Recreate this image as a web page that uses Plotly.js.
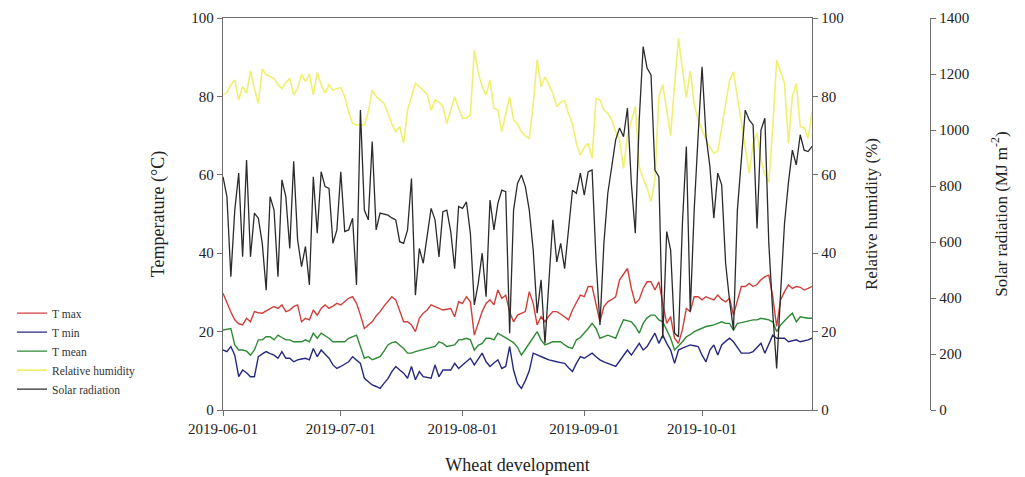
<!DOCTYPE html>
<html>
<head>
<meta charset="utf-8">
<script src="https://cdn.plot.ly/plotly-3.0.1.min.js"></script>
<style>html,body{margin:0;padding:0;background:#fff;}#chart{width:1025px;height:477px;}</style>
</head>
<body>
<div id="chart"></div>
<script>
// Daily series, 2019-06-01 .. 2019-10-29
const startDate = '2019-06-01';
const tMax = [29.8,27.2,25,23,22,21.7,23.4,22.5,25.1,24.8,
24.7,25.3,25.9,26.4,25.9,26.8,25.1,25.5,26.4,26.8,
22.5,23.4,23,25.5,24.2,25.9,26.8,25.9,26.5,27.2,
26.8,27.6,28.5,28.9,27.2,24.2,20.8,21.7,22.5,24,
25.1,26.5,27.6,28.9,28.1,25,22.5,22.5,21.7,20,
23.4,24.7,25.5,26.8,26.4,25.9,25.5,25.7,25.9,23.8,
27.6,27.2,28.9,27.6,19.1,22.1,25.1,27.2,28.1,26.8,
30.6,28.5,29.3,25,22.5,24.2,24.6,25.1,30.2,27.2,
21.7,23.8,22.5,24,25.1,25.1,24.5,23.8,23,25.5,
27.5,29.3,28.9,31.5,31.5,27.2,22.5,26.4,27.6,28.2,
28.9,33.2,34.6,36.1,31,27.2,28.2,31,32.7,32.7,
30.6,32.7,27.2,22.1,23.8,18.3,17,20.5,25.9,25.1,
28.9,28.9,28.1,28.9,28.5,28.1,29.3,28.2,27.6,28.5,
24.2,28.1,31.5,31.5,32.3,31.5,32,33.2,34,34.4,
28.9,21.3,28.1,30.2,31.9,31,31.5,31.3,30.6,31,
31.5];
const tMin = [15.3,14.9,16.2,14,8.5,10.2,9.5,8.5,8.5,13.6,
14.3,14.9,14.4,14,13.2,14.9,13.2,13.2,12.3,12.8,
13,13.2,12.8,15.7,13.6,15.3,14.2,13.2,11.5,10.6,
11.1,11.6,12.3,13.6,12.8,11.9,8.1,7.2,6.4,6,
5.5,6.8,8,9.8,11.1,10.2,9.4,8.1,11.1,7.7,
9.8,8.5,8.3,8.1,11.5,8.5,10.2,10.2,10.2,11.9,
10.6,11.5,12.3,13.2,11.5,13,14.5,12.3,11.1,12,
12.8,10.6,11.1,16.2,10.2,6.8,5.5,7.5,10,14.5,
14,13.6,13.2,12.8,12.5,12.3,12.1,11.9,10.8,9.8,
11.9,13.6,13.2,13.8,14.5,13.6,12.8,12.3,11.9,11.5,
11.1,12.5,14,15.3,14,15.5,17,15.3,16.2,17.9,
19.6,17,19.1,17,15.3,11.9,15.3,15.8,16.2,16.6,
16.4,16.2,14,12.3,15.3,16.6,14,16.6,17.5,18.3,
17.4,16,14.5,14.5,14.5,14.9,16,17,14.5,17,
19.1,18.3,18.3,18.3,17.4,17.6,17.9,17.4,17.6,17.9,
18.3];
const tMean = [20.4,20.6,20.8,16.6,15.3,15.3,15,14,15.3,17.9,
17.9,18.7,18.7,17.9,19.1,18.5,17.9,17.9,17.4,17.4,
17.4,17.9,17.4,19.6,18.3,19.6,19,18.3,17.4,17.4,
17.4,17.4,18.3,18.7,19.1,16.2,13.2,13.6,12.8,13.2,
13.6,15,16.6,17.2,17.4,16.5,15.7,14.5,14.5,14.9,
15.2,15.5,15.7,16,16.2,17.4,17,16.2,16.4,16.6,
17.9,18,18.3,17.9,15.3,16.5,17,18.3,18.3,17.9,
19.6,19,18.3,17.9,17.2,16,14,15.5,17,18.5,
20,17.9,16.6,17,17.4,17.4,17.4,16.6,16,15.7,
17.9,18.5,19.6,20.8,22.1,20.8,18.3,18.7,19.1,18.7,
18.3,20.8,23,22.8,22.5,21.3,19.6,22.1,23.5,24.2,
24.2,23,22.5,20.4,18.3,15.3,16.3,17.4,18.7,19.2,
20,20.5,21,21.3,21.5,21.7,22.1,22.5,22.1,22.1,
20.4,22.1,22.3,22.5,22.8,23,23,23.4,23.2,23,
22.5,20,21.7,22.8,23.8,24.7,22.5,23.8,23.6,23.4,
23.4];
const relHumidity = [80.4,81,83,84.2,79.1,82.5,80.8,86.5,82,78.2,
87,85.5,85,84.6,83,82,83.5,84.6,80.4,82,
85.6,83.8,85.7,80.4,86.1,83,80.8,83,81.6,82,
82.3,79.9,76,73.1,72.7,72.7,72.7,76,81.6,80,
79.1,78.2,75.7,73,71,72.3,68.1,76.5,80,83.3,
82.5,81.6,80.5,76.5,79.1,78.5,77.4,73.1,76.5,79.9,
77,74.4,74.5,75.3,91.8,86,82.5,80.4,84.2,77,
76.5,71,75.5,79.9,74,73,71,70,69.3,78,
89.3,82.5,85,83,80.8,77.4,78.5,79,75.5,73,
68,65,67,68,64.2,79.5,79.1,76.5,75.7,74,
71,68.9,61.6,70,74,77.4,62.1,59,56.6,53.2,
58.7,80,83,76,70,83,94.8,87,79.7,86.5,
78,74,71.4,69,67,65.5,66,72,78,84,
86.3,80,74,67,60.4,68,70.6,64,60,58.2,
72,89.3,86,83.3,68,80,83.3,72.3,72,69.3,
76];
const solarRadiation = [833,762,476,714,846,547,893,547,703,685,
595,428,762,714,476,822,762,577,888,608,
512,584,447,833,631,851,798,791,595,643,
851,637,643,685,447,1071,714,679,959,643,
703,700,696,686,679,601,595,643,827,410,
577,524,630,720,679,547,708,714,637,505,
727,720,743,631,375,452,560,405,750,643,
738,785,780,274,714,809,839,798,714,571,
346,465,238,452,679,529,595,505,644,785,
774,846,767,851,857,536,304,595,774,869,
965,1007,976,1078,809,631,1036,1298,1221,1197,
857,833,256,637,571,274,262,666,941,351,
714,980,1226,980,869,685,846,804,524,392,
286,714,910,1071,1036,1018,648,1000,1042,595,
350,148,417,666,812,928,875,983,928,923,
941];
const xTicks = ['2019-06-01','2019-07-01','2019-08-01','2019-09-01','2019-10-01'];

const dates = [];
const d0 = new Date(startDate + 'T00:00:00Z');
for (let i = 0; i < tMax.length; i++) {
  const d = new Date(d0.getTime() + i * 86400000);
  dates.push(d.toISOString().slice(0, 10));
}

const serif = 'Liberation Serif, Times New Roman, serif';
const axisColor = '#6e6e6e';

const traces = [
  {x: dates, y: tMax, name: 'T max', type: 'scatter', mode: 'lines', yaxis: 'y',
   line: {color: '#cf3f3a', width: 1.4}},
  {x: dates, y: tMin, name: 'T min', type: 'scatter', mode: 'lines', yaxis: 'y',
   line: {color: '#27287f', width: 1.4}},
  {x: dates, y: tMean, name: 'T mean', type: 'scatter', mode: 'lines', yaxis: 'y',
   line: {color: '#2f8a35', width: 1.4}},
  {x: dates, y: relHumidity, name: 'Relative humidity', type: 'scatter', mode: 'lines', yaxis: 'y2',
   line: {color: '#f0f070', width: 1.6}},
  {x: dates, y: solarRadiation, name: 'Solar radiation', type: 'scatter', mode: 'lines', yaxis: 'y3',
   line: {color: '#2b2b2b', width: 1.3}}
];

const baseY = {
  showgrid: false, zeroline: false, showline: true, linecolor: axisColor, linewidth: 1.3,
  ticks: 'outside', ticklen: 5, tickcolor: axisColor, tickwidth: 1.2,
  tickfont: {family: serif, size: 15, color: '#222'}
};

const layout = {
  width: 1025, height: 477,
  margin: {l: 223, r: 95, t: 18, b: 67},
  paper_bgcolor: '#fff', plot_bgcolor: '#fff',
  font: {family: serif, color: '#222'},
  showlegend: true,
  legend: {x: -0.2984, y: 0.284, xanchor: 'left', yanchor: 'top',
           font: {family: serif, size: 11.5, color: '#333'}, bgcolor: 'rgba(0,0,0,0)',
           tracegroupgap: 0},
  xaxis: {
    type: 'date', domain: [0, 0.8331], range: ['2019-06-01', '2019-10-29'],
    tickvals: xTicks, tickformat: '%Y-%m-%d',
    showgrid: false, zeroline: false, showline: true, mirror: true,
    linecolor: axisColor, linewidth: 1.3,
    ticks: 'outside', ticklen: 5, tickcolor: axisColor, tickwidth: 1.2,
    tickfont: {family: serif, size: 15, color: '#222'},
    title: {text: 'Wheat development', font: {family: serif, size: 18, color: '#222'}, standoff: 22}
  },
  yaxis: Object.assign({}, baseY, {
    range: [0, 100], tickvals: [0, 20, 40, 60, 80, 100],
    title: {text: 'Temperature (°C)', font: {family: serif, size: 18, color: '#222'}, standoff: 22}
  }),
  yaxis2: Object.assign({}, baseY, {
    overlaying: 'y', side: 'right', anchor: 'x',
    range: [0, 100], tickvals: [0, 20, 40, 60, 80, 100],
    title: {text: 'Relative humidity (%)', font: {family: serif, size: 17, color: '#222'}, standoff: 22}
  }),
  yaxis3: Object.assign({}, baseY, {
    overlaying: 'y', side: 'right', anchor: 'free', position: 1.0,
    range: [0, 1400], tickvals: [0, 200, 400, 600, 800, 1000, 1200, 1400],
    title: {text: 'Solar radiation (MJ m<sup>-2</sup>)', font: {family: serif, size: 17, color: '#222'}, standoff: 26}
  })
};

Plotly.newPlot('chart', traces, layout, {displayModeBar: false, responsive: false});
</script>
</body>
</html>
